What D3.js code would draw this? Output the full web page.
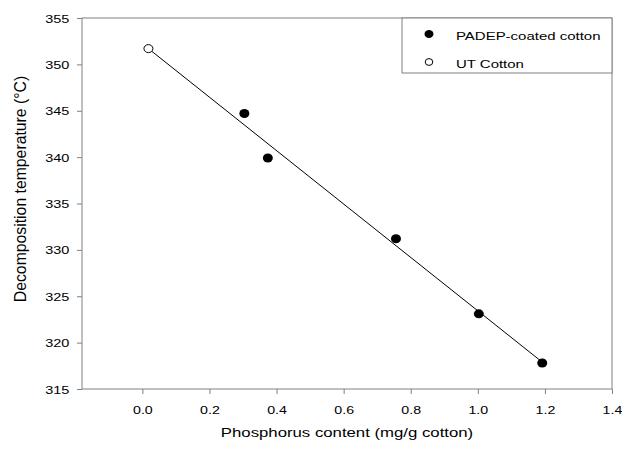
<!DOCTYPE html>
<html lang="en">
<head>
<meta charset="UTF-8">
<title>Decomposition temperature vs phosphorus content</title>
<script src="https://d3js.org/d3.v7.min.js"></script>
<style>
    body { margin: 0; background: #fff; }
    svg { display: block; font-family: "Liberation Sans", Arial, sans-serif; }
</style>
</head>
<body>
<svg id="chart" width="622" height="450"></svg>
<script>
    // values
    const padepX = [0.304, 0.374, 0.756, 1.003, 1.192];
    const padepY = [344.7, 339.9, 331.2, 323.1, 317.8];
    const utX = [0.018];
    const utY = [351.7];
    // end points of the fitted line as drawn
    const fitX = [0.018, 1.192];
    const fitY = [351.7, 317.9];
    const xTicks = [0.0, 0.2, 0.4, 0.6, 0.8, 1.0, 1.2, 1.4];
    const yTicks = [315, 320, 325, 330, 335, 340, 345, 350, 355];
    const legendLabels = ["PADEP-coated cotton", "UT Cotton"];

    const svg = d3.select("#chart");
    const plotLeft = 82, plotRight = 612, plotTop = 18, plotBottom = 389;
    const SX = 1.27; // the original text is a little wide

    const x = d3.scaleLinear().domain([-0.18, 1.4]).range([plotLeft, plotRight]);
    const y = d3.scaleLinear().domain([315, 355]).range([plotBottom, plotTop]);
    const frameColor = "#808080";

    // x axis
    const gx = svg.append("g")
        .attr("transform", `translate(0,${plotBottom})`)
        .call(d3.axisBottom(x).tickValues(xTicks).tickFormat(d3.format(".1f")).tickSize(5).tickSizeOuter(0));
    gx.select(".domain").remove();
    gx.selectAll("line").attr("stroke", frameColor);
    gx.selectAll("text")
        .attr("y", 25).attr("dy", 0)
        .attr("transform", `scale(${SX},1)`)
        .attr("font-size", 11.2).attr("font-family", null).attr("fill", "#000");

    // y axis
    const gy = svg.append("g")
        .attr("transform", `translate(${plotLeft},0)`)
        .call(d3.axisLeft(y).tickValues(yTicks).tickSize(5).tickSizeOuter(0));
    gy.select(".domain").remove();
    gy.selectAll("line").attr("stroke", frameColor);
    gy.selectAll("text")
        .attr("x", -10).attr("dy", "0.36em")
        .attr("transform", `scale(${SX},1)`)
        .attr("font-size", 11.4).attr("font-family", null).attr("fill", "#000");

    // frame
    svg.append("rect")
        .attr("x", plotLeft).attr("y", plotTop)
        .attr("width", plotRight - plotLeft).attr("height", plotBottom - plotTop)
        .attr("fill", "none").attr("stroke", frameColor);

    // fitted line
    svg.append("line")
        .attr("x1", x(fitX[0])).attr("y1", y(fitY[0]))
        .attr("x2", x(fitX[1])).attr("y2", y(fitY[1]))
        .attr("stroke", "#000").attr("stroke-width", 1);

    const padep = padepX.map((d, i) => ({ x: d, y: padepY[i] }));
    const ut = utX.map((d, i) => ({ x: d, y: utY[i] }));

    svg.selectAll("ellipse.padep")
        .data(padep)
        .join("ellipse")
        .attr("class", "padep")
        .attr("cx", d => x(d.x)).attr("cy", d => y(d.y))
        .attr("rx", 5).attr("ry", 4.5)
        .attr("fill", "#000");

    svg.selectAll("ellipse.ut")
        .data(ut)
        .join("ellipse")
        .attr("class", "ut")
        .attr("cx", d => x(d.x)).attr("cy", d => y(d.y))
        .attr("rx", 4.5).attr("ry", 4)
        .attr("fill", "#fff").attr("stroke", "#000").attr("stroke-width", 1);

    // legend
    const legend = svg.append("g");
    legend.append("rect")
        .attr("x", 402).attr("y", plotTop)
        .attr("width", plotRight - 402).attr("height", 55)
        .attr("fill", "#fff").attr("stroke", frameColor);
    const items = legend.selectAll("g.item")
        .data(legendLabels)
        .join("g")
        .attr("class", "item")
        .attr("transform", (d, i) => `translate(429,${34 + i * 28})`);
    items.append("ellipse")
        .attr("rx", (d, i) => i === 0 ? 4.5 : 3.8)
        .attr("ry", (d, i) => i === 0 ? 4 : 3.4)
        .attr("fill", (d, i) => i === 0 ? "#000" : "#fff")
        .attr("stroke", "#000").attr("stroke-width", (d, i) => i === 0 ? 0 : 1);
    items.append("text")
        .attr("transform", `translate(27,6) scale(${SX},1)`)
        .attr("font-size", 11.8)
        .text(d => d);

    // axis titles
    svg.append("text")
        .attr("transform", `translate(347,437) scale(${SX},1)`)
        .attr("text-anchor", "middle")
        .attr("font-size", 13.2)
        .text("Phosphorus content (mg/g cotton)");

    svg.append("text")
        .attr("transform", `translate(26,189) scale(1.03,1) rotate(-90)`)
        .attr("text-anchor", "middle")
        .attr("font-size", 15.8)
        .text("Decomposition temperature (°C)");
</script>
</body>
</html>
